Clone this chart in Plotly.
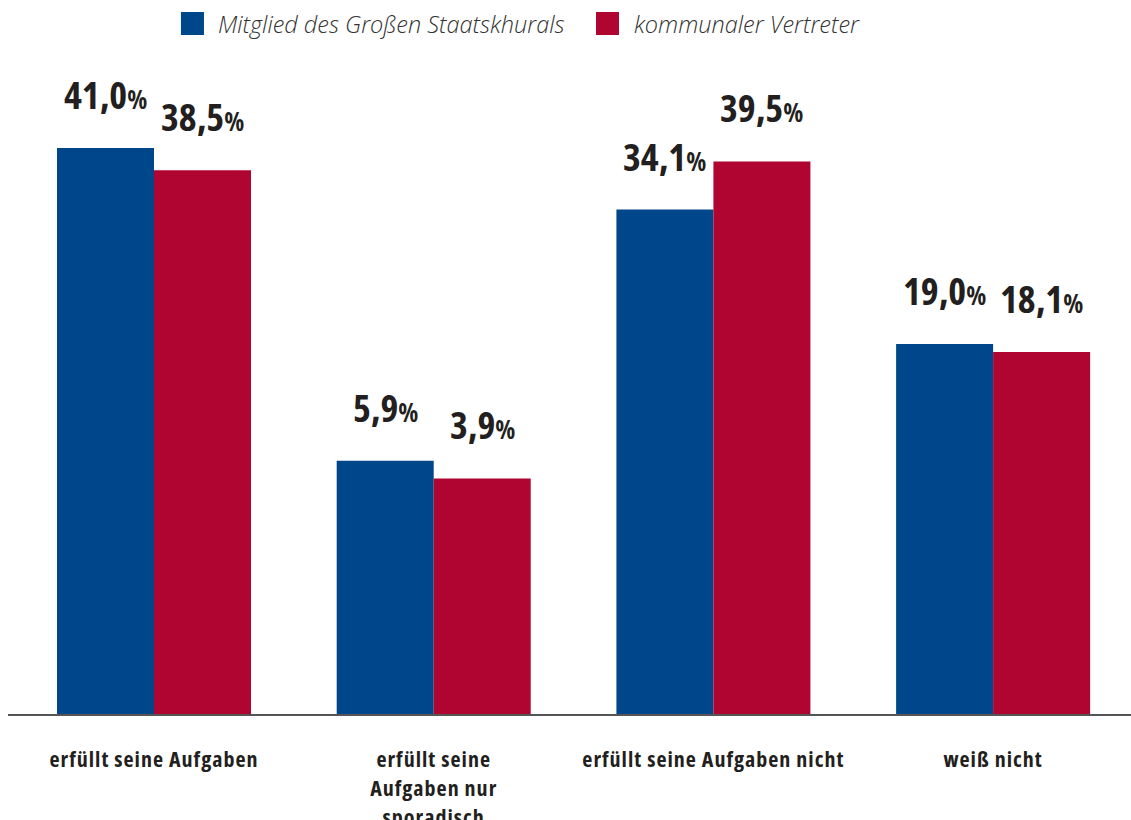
import plotly.graph_objects as go

# ---- data ----
categories = [
    "erfüllt seine Aufgaben",
    "erfüllt seine<br>Aufgaben nur<br>sporadisch",
    "erfüllt seine Aufgaben nicht",
    "weiß nicht",
]
series_names = ["Mitglied des Großen Staatskhurals", "kommunaler Vertreter"]
values_mitglied = [41.0, 5.9, 34.1, 19.0]
values_kommunal = [38.5, 3.9, 39.5, 18.1]

# ---- style ----
colors = ["#00468A", "#B00530"]
txt_color = "#231f20"
font_fam = "Open Sans, Roboto, sans-serif"
axis_floor = -22.55   # value axis of the original does not start at zero
y_top = 50.89


def stretch(s, css):
    """narrow font style, applied line by line"""
    return "<br>".join(f"<span style='{css}'>{part}</span>"
                       for part in s.split("<br>"))


fig = go.Figure()
for name, vals, col in zip(series_names, [values_mitglied, values_kommunal], colors):
    fig.add_trace(go.Bar(
        name=name,
        x=categories,
        y=[v - axis_floor for v in vals],
        base=axis_floor,
        customdata=vals,
        hovertemplate="%{customdata:.1f}%<extra>" + name + "</extra>",
        marker=dict(color=col, line=dict(width=0)),
        showlegend=False,
    ))


def fmt(v):
    return ("<span style='font-stretch:condensed'>" + f"{v:.1f}".replace(".", ",")
            + "<span style='font-size:26px'>%</span></span>")


annotations = []
for vals, shift in [(values_mitglied, -48.5), (values_kommunal, 48.5)]:
    for c, v in zip(categories, vals):
        annotations.append(dict(
            x=c, y=v, xref="x", yref="y", text=fmt(v),
            showarrow=False, xanchor="center", yanchor="bottom",
            xshift=shift, yshift=26,
            font=dict(family=font_fam, size=38, color=txt_color, weight="bold"),
        ))

# manual legend (large square swatches as in the original)
shapes = []
leg_x = [(0.154, 0.1745, 0.1852), (0.5236, 0.5441, 0.5557)]
for (x0, x1, xt), name, col in zip(leg_x, series_names, colors):
    shapes.append(dict(type="rect", xref="paper", yref="paper",
                       x0=x0, x1=x1, y0=1.0382, y1=1.0734,
                       fillcolor=col, line=dict(width=0)))
    annotations.append(dict(
        x=xt, y=1.0558, xref="paper", yref="paper", text=name,
        showarrow=False, xanchor="left", yanchor="middle",
        font=dict(family=font_fam, size=23.5, color="#333333",
                  style="italic", weight=300),
    ))

fig.update_layout(
    width=1131, height=820,
    margin=dict(l=8, r=0, t=60, b=106, autoexpand=False),
    paper_bgcolor="white", plot_bgcolor="white",
    barmode="group", bargap=0.3064, bargroupgap=0,
    annotations=annotations, shapes=shapes,
    xaxis=dict(
        type="category", range=[-0.522, 3.493], automargin=False,
        tickmode="array", tickvals=categories,
        ticktext=[stretch(c, "font-stretch:condensed;letter-spacing:1px") for c in categories],
        showline=True, linecolor="#555555", linewidth=2,
        ticks="outside", ticklen=25, tickcolor="rgba(0,0,0,0)",
        tickfont=dict(family=font_fam, size=22, color=txt_color, weight="bold"),
        showgrid=False, zeroline=False,
    ),
    yaxis=dict(
        range=[axis_floor, y_top], visible=False, automargin=False,
        showgrid=False, zeroline=False,
    ),
)

fig.write_html("out.html")
